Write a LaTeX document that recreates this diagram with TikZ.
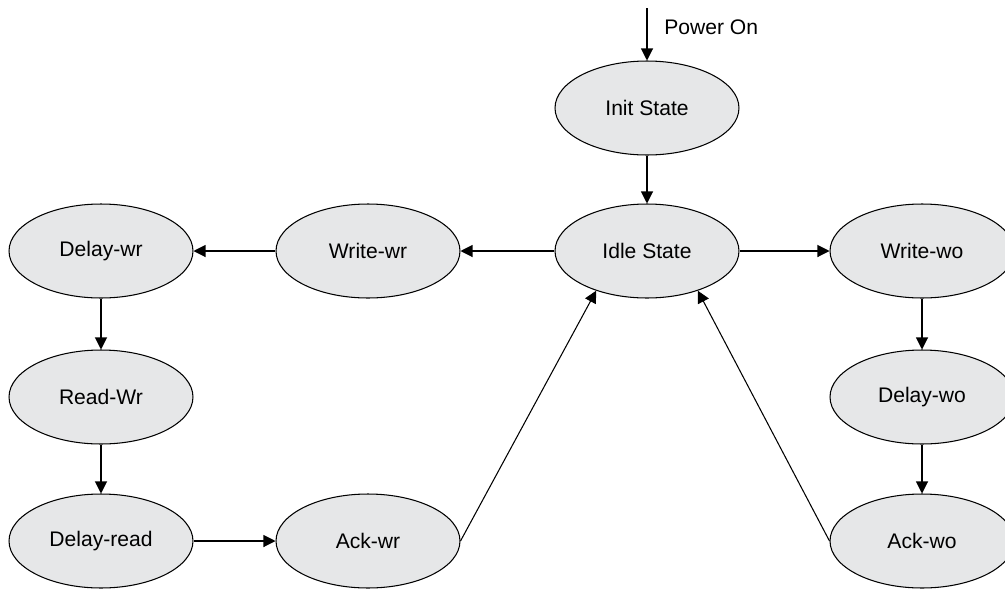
\documentclass[tikz,border=0pt]{standalone}
\usepackage{fontspec}
\setmainfont{Liberation Sans}
\usepackage{tikz}
\usetikzlibrary{shapes.geometric,arrows.meta}
\definecolor{stategray}{RGB}{230,231,232}

\begin{document}
\begin{tikzpicture}[x=0.02cm,y=-0.02cm,line width=0.6pt,
	every node/.style={font=\fontsize{12}{14}\selectfont},
	state/.style={ellipse,draw,fill=stategray,minimum width=3.68cm,minimum height=1.88cm,inner sep=0pt},
	tr/.style={-{Triangle[length=0.24cm,width=0.24cm]}}]
    \useasboundingbox (0,0) rectangle (1005,589);
    \coordinate (power) at (647,8);
    \node[state] (init) at (647,108) {Init State};
    \node[state] (idle) at (647,251) {Idle State};
    \node[state] (writewr) at (368,251) {Write-wr};
    \node[state] (delaywr) at (101,251) {Delay-wr};
    \node[state] (readwr) at (101,397) {Read-Wr};
    \node[state] (delayread) at (101,541) {Delay-read};
    \node[state] (ackwr) at (368,541) {Ack-wr};
    \node[state] (writewo) at (922,251) {Write-wo};
    \node[state] (delaywo) at (922,397) {Delay-wo};
    \node[state] (ackwo) at (922,541) {Ack-wo};
    \node[anchor=west] (poweron) at (658,27) {Power On};

    \draw[tr] (power) -- (init.north);
    \draw[tr] (init) -- (idle);
    \draw[tr] (idle) -- (writewr);
    \draw[tr] (writewr) -- (delaywr);
    \draw[tr] (delaywr) -- (readwr);
    \draw[tr] (readwr) -- (delayread);
    \draw[tr] (delayread) -- (ackwr);
    \draw[tr] (ackwr.east) -- (idle.218);
    \draw[tr] (idle) -- (writewo);
    \draw[tr] (writewo) -- (delaywo);
    \draw[tr] (delaywo) -- (ackwo);
    \draw[tr] (ackwo.west) -- (idle.-38);

\end{tikzpicture}
\end{document}
